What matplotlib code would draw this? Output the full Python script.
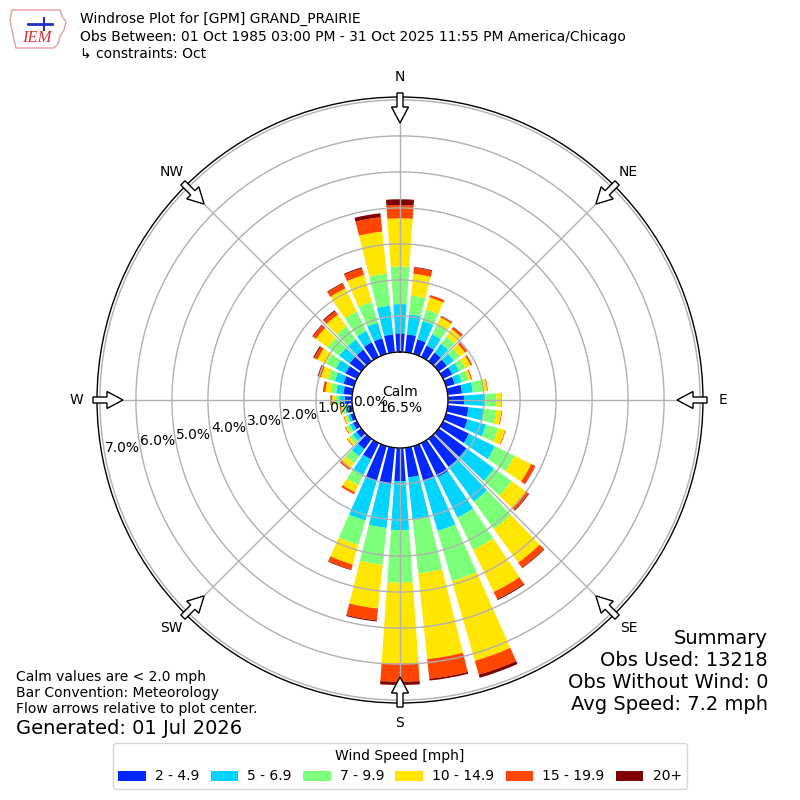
import numpy as np
import matplotlib
matplotlib.use("Agg")
import matplotlib.pyplot as plt
from matplotlib.patches import Polygon

# direction bins (deg, meteorological), 10 degree bins
directions = np.arange(0, 360, 10)

# outer edge (cumulative %) of each speed band per direction
edge_2 = [0.52, 0.50, 0.42, 0.35, 0.30, 0.28, 0.28, 0.25, 0.40, 0.45, 0.58, 0.62,
          0.80, 0.95, 0.96, 1.05, 1.00, 0.83, 0.92, 1.02, 1.00, 0.50, 0.35, 0.17,
          0.12, 0.10, 0.12, 0.20, 0.25, 0.30, 0.35, 0.40, 0.40, 0.45, 0.45, 0.50]
edge_5 = [1.33, 1.06, 0.95, 0.70, 0.60, 0.52, 0.50, 0.45, 0.70, 1.03, 1.02, 1.15,
          1.60, 1.90, 2.15, 2.30, 2.45, 2.00, 2.28, 2.24, 2.15, 0.98, 0.60, 0.30,
          0.22, 0.17, 0.20, 0.35, 0.45, 0.55, 0.65, 0.75, 0.75, 0.80, 0.90, 1.30]
edge_7 = [2.37, 1.58, 1.28, 1.00, 0.85, 0.72, 0.68, 0.65, 1.00, 1.35, 1.35, 1.50,
          2.20, 2.50, 3.10, 3.30, 3.90, 3.51, 3.74, 3.27, 2.85, 1.30, 0.85, 0.40,
          0.30, 0.23, 0.27, 0.45, 0.60, 0.75, 0.95, 1.15, 1.20, 1.40, 1.50, 2.19]
edge_10 = [3.71, 2.19, 1.63, 1.22, 1.10, 0.90, 0.85, 0.72, 1.10, 1.49, 1.50, 1.70,
           2.72, 2.98, 4.25, 4.60, 6.20, 5.90, 5.98, 4.49, 3.42, 1.52, 1.02, 0.48,
           0.35, 0.28, 0.32, 0.55, 0.75, 0.95, 1.22, 1.55, 1.60, 2.12, 2.28, 3.37]
edge_15 = [4.08, 2.36, 1.70, 1.26, 1.17, 0.96, 0.90, 0.75, 1.12, 1.50, 1.52, 1.72,
           2.84, 3.08, 4.42, 4.82, 6.60, 6.45, 6.49, 4.82, 3.56, 1.58, 1.07, 0.50,
           0.37, 0.30, 0.34, 0.59, 0.81, 1.03, 1.32, 1.66, 1.72, 2.27, 2.47, 3.77]
edge_20 = [4.24, 2.38, 1.70, 1.27, 1.18, 0.97, 0.90, 0.75, 1.12, 1.50, 1.52, 1.72,
           2.85, 3.10, 4.44, 4.85, 6.69, 6.50, 6.58, 4.85, 3.58, 1.58, 1.07, 0.50,
           0.37, 0.30, 0.35, 0.60, 0.82, 1.05, 1.35, 1.68, 1.75, 2.29, 2.50, 3.88]

speed_labels = ["2 - 4.9", "5 - 6.9", "7 - 9.9", "10 - 14.9", "15 - 19.9", "20+"]
speed_colors = ["#0028ff", "#00d4ff", "#7cff79", "#ffe600", "#ff4600", "#800000"]

calm_pct = 16.5
rticks = [0, 1, 2, 3, 4, 5, 6, 7]
compass = ["N", "NE", "E", "SE", "S", "SW", "W", "NW"]

fig = plt.figure(figsize=(8, 8), dpi=100)
ax = fig.add_axes([0.12125, 0.12125, 0.7575, 0.7575], projection="polar")
ax.set_theta_zero_location("N")
ax.set_theta_direction(-1)

theta = np.deg2rad(directions)
bottom = np.zeros(len(directions))
handles = []
for edges, color, label in zip([edge_2, edge_5, edge_7, edge_10, edge_15, edge_20],
                               speed_colors, speed_labels):
    edges = np.array(edges)
    b = ax.bar(theta, edges - bottom, width=np.deg2rad(8), bottom=bottom,
               color=color, linewidth=0, label=label, zorder=1)
    handles.append(b)
    bottom = edges

ax.set_ylim(0, 7.08)
ax.set_rorigin(-1.333)
ax.set_yticks(rticks)
ax.set_yticklabels([f"{v:.1f}%" for v in rticks], fontsize=10)
ax.set_rlabel_position(259.5)
ax.set_xticks(np.deg2rad(np.arange(0, 360, 45)))
ax.set_xticklabels(compass, fontsize=10)
ax.tick_params(axis="x", pad=4)
ax.grid(True, color="#b0b0b0", linewidth=1)
for sp in ax.spines.values():
    sp.set_color("black")
    sp.set_linewidth(1)

ax.text(0.5, 0.5, f"Calm\n{calm_pct:.1f}%", transform=ax.transAxes,
        ha="center", va="center", fontsize=10, zorder=5)

# hollow flow arrows at the rim, pointing to center
px = 1.0 / 606.0
shape = [(307, -3), (293, -3), (293, -8.5), (277, 0), (293, 8.5), (293, 3), (307, 3)]
for ang in np.arange(0, 360, 45):
    t = np.deg2rad(ang)
    u = np.array([np.sin(t), np.cos(t)])
    v = np.array([np.cos(t), -np.sin(t)])
    pts = [0.5 + (r * u + a * v) * px for r, a in shape]
    ax.add_patch(Polygon(pts, closed=True, facecolor="white", edgecolor="black",
                         linewidth=1, transform=ax.transAxes, clip_on=False, zorder=6))

# header
fig.text(80 / 800, 1 - 19 / 800, "Windrose Plot for [GPM] GRAND_PRAIRIE", fontsize=10, va="center")
fig.text(80 / 800, 1 - 37 / 800,
         "Obs Between: 01 Oct 1985 03:00 PM - 31 Oct 2025 11:55 PM America/Chicago",
         fontsize=10, va="center")
fig.text(80 / 800, 1 - 54 / 800, "\u21b3 constraints: Oct", fontsize=10, va="center")

# rough IEM logo
iowa = [(12, 10), (60, 10), (62, 16), (66, 22), (64, 30), (60, 36), (58, 44), (54, 48),
        (16, 48), (14, 40), (12, 30), (10, 20)]
fig.patches.append(Polygon([(x / 800, 1 - y / 800) for x, y in iowa], closed=True,
                           facecolor="none", edgecolor="#e8a0a0", linewidth=1,
                           transform=fig.transFigure))
fig.lines.append(plt.Line2D([28 / 800, 52 / 800], [1 - 24 / 800, 1 - 24 / 800],
                            color="#2030c0", linewidth=2, transform=fig.transFigure))
fig.lines.append(plt.Line2D([44 / 800, 44 / 800], [1 - 18 / 800, 1 - 30 / 800],
                            color="#2030c0", linewidth=1.5, transform=fig.transFigure))
fig.text(37 / 800, 1 - 38 / 800, "IEM", fontsize=12, color="#d03030", style="italic",
         family="Liberation Serif", ha="center", va="center")

# footer notes
fig.text(16 / 800, 1 - 693 / 800,
         "Calm values are < 2.0 mph\nBar Convention: Meteorology\nFlow arrows relative to plot center.",
         fontsize=10, va="center", linespacing=1.2)
fig.text(16 / 800, 1 - 728 / 800, "Generated: 01 Jul 2026", fontsize=14, va="center")
fig.text(768 / 800, 1 - 671 / 800,
         "Summary\nObs Used: 13218\nObs Without Wind: 0\nAvg Speed: 7.2 mph",
         fontsize=14, ha="right", va="center", linespacing=1.2)

fig.legend(handles, speed_labels, loc="lower center", bbox_to_anchor=(0.5, 0.005),
           ncol=6, title="Wind Speed [mph]", fontsize=10, title_fontsize=10,
           columnspacing=0.8, handletextpad=0.65)

fig.savefig("out.png", dpi=100)
